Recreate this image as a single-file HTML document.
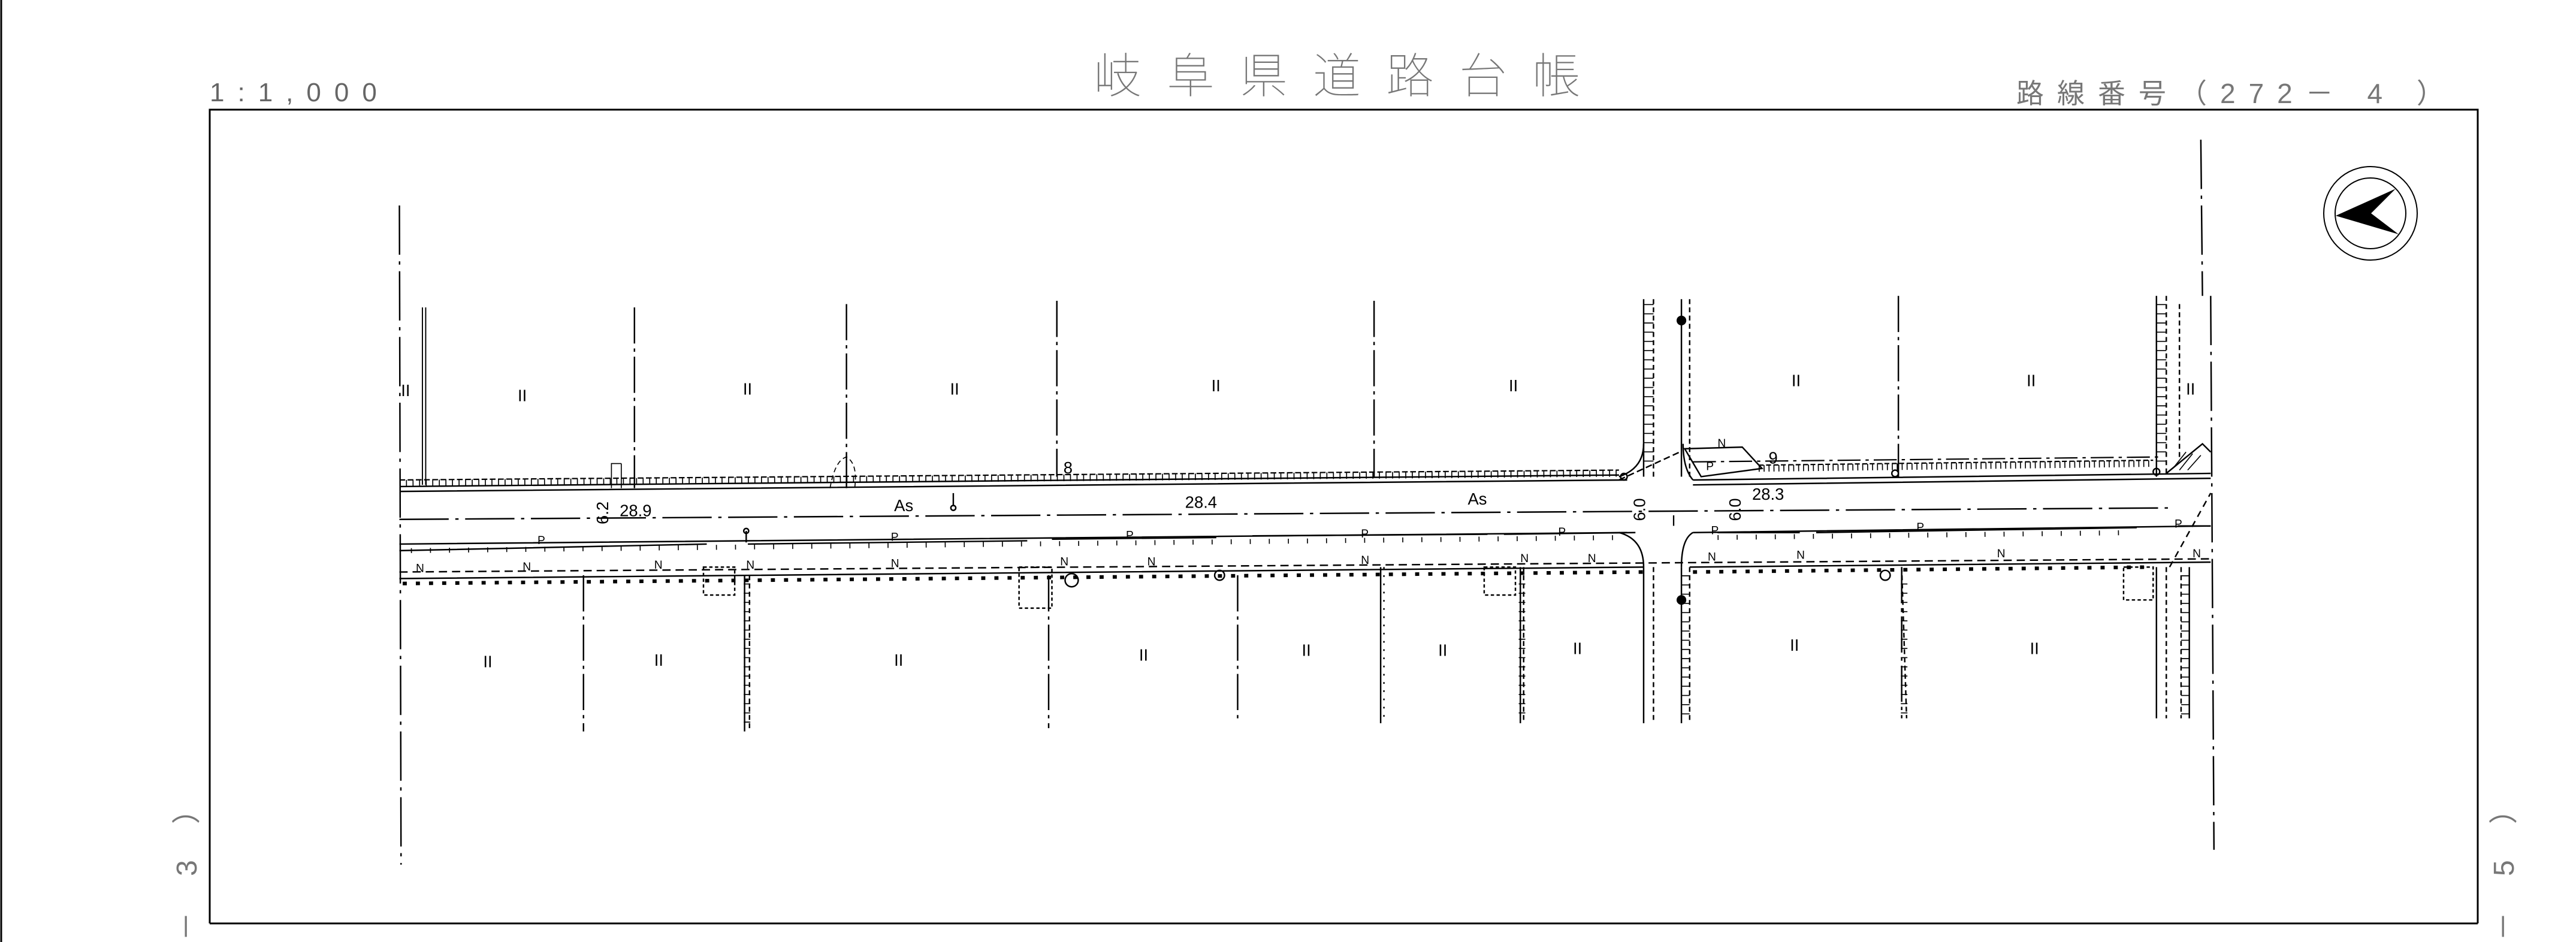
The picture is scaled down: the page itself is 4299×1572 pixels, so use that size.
<!DOCTYPE html>
<html><head><meta charset="utf-8"><style>
html,body{margin:0;padding:0;background:#fff;}
svg{display:block;}
</style></head><body>
<svg width="4299" height="1572" viewBox="0 0 4299 1572" xmlns="http://www.w3.org/2000/svg">
<rect width="4299" height="1572" fill="#fff"/>
<line x1="2" y1="0" x2="2" y2="1572" stroke="#000" stroke-width="3"/>
<!-- header -->
<text x="350" y="169" font-family="Liberation Sans, sans-serif" font-size="44" font-weight="100" letter-spacing="22" fill="#666">1:1,000</text>
<text x="1825" y="155" font-family="Liberation Sans, 'Noto Sans CJK JP', sans-serif" font-size="80" letter-spacing="42" fill="#777" font-weight="100">岐阜県道路台帳</text>
<text x="3365" y="172" font-family="Liberation Sans, 'Noto Sans CJK JP', sans-serif" font-size="46" letter-spacing="22" fill="#777">路線番号（272－ 4 ）</text>
<!-- frame -->
<polyline points="350,1541 350,183 4135,183 4135,1541" fill="none" stroke="#000" stroke-width="3"/>
<line x1="350" y1="1541" x2="4135" y2="1541" stroke="#000" stroke-width="3"/>
<text transform="translate(328,1570) rotate(-90)" font-family="Liberation Sans, sans-serif" font-size="48" letter-spacing="60" fill="#777">－3）</text>
<text transform="translate(4195,1570) rotate(-90)" font-family="Liberation Sans, sans-serif" font-size="48" letter-spacing="60" fill="#777">－5）</text>
<!-- north arrow -->
<circle cx="3956" cy="356" r="78" fill="none" stroke="#000" stroke-width="2"/>
<circle cx="3956" cy="356" r="59" fill="none" stroke="#000" stroke-width="2"/>
<polygon points="3898,360 3998,315 3957,356 4003,391" fill="#000"/>

<g transform="scale(2.743)" fill="none" stroke="#000" stroke-width="0.9" font-family="Liberation Sans, sans-serif">
 <g stroke-dasharray="30 4 2 4">
  <line x1="243" y1="125" x2="244" y2="526"/>
  <line x1="1339" y1="85" x2="1340" y2="180"/>
  <line x1="1345" y1="180" x2="1347" y2="517"/>
  <line x1="243" y1="316" x2="1322" y2="309"/>
 </g>
 <line x1="257" y1="187" x2="257" y2="295" stroke-width="0.7"/>
 <line x1="259" y1="187" x2="259" y2="295" stroke-width="0.7"/>
 <!-- road top -->
 <path d="M243,296 L985,289 M243,299 L990,292 M1030,292 L1345,288 M1030,295 L1345,291"/>
 <path d="M243,292 L985,286" stroke-dasharray="3.5 1.5" stroke-width="0.8"/>
 <path d="M243,294 L985,288" stroke-dasharray="0.6 3.4" stroke-width="4"/>
 <path d="M1070,285 L1310,282" stroke-dasharray="0.6 2.4" stroke-width="4"/>
 <path d="M1070,283 L1310,280" stroke-dasharray="3 1.5" stroke-width="0.8"/>
 <path d="M1030,281 L1315,278" stroke-dasharray="14 3 2 3" stroke-width="0.8"/>
 <!-- road bottom -->
 <path d="M243,331 L990,324 M1030,324 L1345,320"/>
 <path d="M243,335 L430,331 M455,331 L625,329 M640,328 L740,327 M762,326 L905,325 M915,325 L995,324 M1045,324 L1095,324 M1105,324 L1300,321 M1325,320 L1345,320"/>
 <path d="M250,335 L990,327 M1045,327 L1300,324" stroke-dasharray="0.6 11" stroke-width="3"/>
 <path d="M243,348 L1345,340" stroke-dasharray="5 3"/>
 <path d="M243,352 L1000,345 M1028,345 L1345,342"/>
 <path d="M245,355 L1000,348 M1030,348 L1310,345" stroke-dasharray="2.5 5.5" stroke-width="2.2"/>
 <!-- intersection curves -->
 <path d="M985,324 Q1000,328 1000,345 M1030,324 Q1023,328 1023,345"/>
 <path d="M985,290 Q1000,285 1000,270 M1030,292 Q1024,285 1024,270"/>
 <path d="M1025,273 L1060,272 L1072,285 L1035,290 Z"/>
 <path d="M985,292 L1022,275" stroke-dasharray="4 2"/>
 <path d="M1318,288 L1340,270 L1345,275"/>
 <path d="M1322,285 L1330,275 M1326,286 L1334,276 M1331,286 L1339,277" stroke-width="0.6"/>
 <path d="M1320,345 L1345,300" stroke-dasharray="4 3"/>
 <!-- side roads -->
 <g>
  <line x1="1000" y1="182" x2="1000" y2="290"/><line x1="1006" y1="182" x2="1006" y2="290" stroke-dasharray="3 2"/>
  <line x1="1003" y1="185" x2="1003" y2="285" stroke-dasharray="0.6 5" stroke-width="6"/>
  <line x1="1023" y1="182" x2="1023" y2="290"/><line x1="1028" y1="182" x2="1028" y2="290" stroke-dasharray="3 2"/>
  <line x1="1000" y1="345" x2="1000" y2="440"/><line x1="1006" y1="345" x2="1006" y2="440" stroke-dasharray="3 2"/>
  <line x1="1023" y1="345" x2="1023" y2="440"/><line x1="1028" y1="345" x2="1028" y2="440" stroke-dasharray="3 2"/>
  <line x1="1025.5" y1="350" x2="1025.5" y2="438" stroke-dasharray="0.6 5" stroke-width="5"/>
  <line x1="1312" y1="180" x2="1312" y2="290"/><line x1="1318" y1="180" x2="1318" y2="290" stroke-dasharray="3 2"/>
  <line x1="1315" y1="185" x2="1315" y2="285" stroke-dasharray="0.6 5" stroke-width="6"/>
  <line x1="1326" y1="185" x2="1326" y2="280" stroke-dasharray="3 2"/>
  <line x1="1312" y1="345" x2="1312" y2="437"/><line x1="1318" y1="345" x2="1318" y2="437" stroke-dasharray="3 2"/>
  <line x1="1327" y1="345" x2="1327" y2="437" stroke-dasharray="3 2"/><line x1="1332" y1="345" x2="1332" y2="437"/>
  <line x1="1329.5" y1="350" x2="1329.5" y2="435" stroke-dasharray="0.6 5" stroke-width="5"/>
 </g>
 <g stroke-dasharray="22 3 2 3">
  <line x1="386" y1="187" x2="386" y2="297"/>
  <line x1="515" y1="185" x2="515" y2="297"/>
  <line x1="643" y1="183" x2="643" y2="290"/>
  <line x1="836" y1="183" x2="836" y2="290"/>
  <line x1="1155" y1="180" x2="1155" y2="290"/>
  <line x1="355" y1="350" x2="355" y2="445"/>
  <line x1="638" y1="350" x2="638" y2="443"/>
  <line x1="753" y1="350" x2="753" y2="440"/>
  <line x1="1157" y1="345" x2="1157" y2="437"/>
 </g>
 <line x1="453" y1="350" x2="453" y2="445"/><line x1="456" y1="350" x2="456" y2="445" stroke-dasharray="3 2"/>
 <line x1="454.5" y1="355" x2="454.5" y2="443" stroke-dasharray="0.6 5" stroke-width="4"/>
 <line x1="840" y1="345" x2="840" y2="440"/><line x1="842" y1="345" x2="842" y2="440" stroke-dasharray="1 4"/>
 <line x1="925" y1="345" x2="925" y2="440"/><line x1="927" y1="345" x2="927" y2="440" stroke-dasharray="3 2"/>
 <line x1="926" y1="355" x2="926" y2="438" stroke-dasharray="0.6 5" stroke-width="4"/>
 <line x1="1157" y1="345" x2="1160" y2="437" stroke-dasharray="3 2"/>
 <line x1="1158.5" y1="355" x2="1158.5" y2="435" stroke-dasharray="0.6 5" stroke-width="4"/>
 <g stroke-dasharray="2 1.5">
  <rect x="428" y="345" width="19" height="17"/>
  <rect x="620" y="345" width="20" height="25"/>
  <rect x="903" y="345" width="19" height="17"/>
  <rect x="1292" y="345" width="18" height="20"/>
 </g>
 <circle cx="652" cy="353" r="4"/><circle cx="1147" cy="350" r="3"/><circle cx="742" cy="350" r="3"/>
 <circle cx="1023" cy="195" r="2.5" fill="#000"/><circle cx="1023" cy="365" r="2.5" fill="#000"/>
 <circle cx="988" cy="290" r="2"/><circle cx="1153" cy="288" r="2"/><circle cx="1312" cy="287" r="2"/>
 <line x1="580" y1="300" x2="580" y2="308"/><circle cx="580" cy="309" r="1.5"/>
 <line x1="454" y1="323" x2="454" y2="330"/><circle cx="454" cy="323" r="1.5"/>
 <path d="M372,297 L372,282 L378,282 M378,297 L378,282" stroke-width="0.6"/>
 <path d="M505,297 Q508,280 515,278 Q522,282 520,297" stroke-dasharray="3 2" stroke-width="0.6"/>
 <g fill="#000" stroke="none" font-size="10">
  <text x="377" y="314">28.9</text><text x="544" y="311">As</text><text x="721" y="309">28.4</text>
  <text x="893" y="307">As</text><text x="1066" y="304">28.3</text>
  <text x="647" y="288">8</text><text x="1076" y="282">9</text>
  <text transform="translate(370,319) rotate(-90)">6.2</text>
  <text transform="translate(1001,317) rotate(-90)">6.0</text>
  <text transform="translate(1059,317) rotate(-90)">6.0</text>
  <text x="1017" y="320" font-size="9">I</text>
 </g>
 <g fill="#000" stroke="none" font-size="7">
  <text x="327" y="331">P</text><text x="542" y="329">P</text><text x="685" y="328">P</text><text x="828" y="327">P</text><text x="948" y="326">P</text><text x="1041" y="325">P</text><text x="1166" y="323">P</text><text x="1323" y="321">P</text><text x="1038" y="286">P</text><text x="1045" y="272">N</text>
  <text x="253" y="348">N</text><text x="318" y="347">N</text><text x="398" y="346">N</text><text x="454" y="346">N</text><text x="542" y="345">N</text><text x="645" y="344">N</text><text x="698" y="344">N</text><text x="828" y="343">N</text><text x="925" y="342">N</text><text x="966" y="342">N</text><text x="1039" y="341">N</text><text x="1093" y="340">N</text><text x="1215" y="339">N</text><text x="1334" y="339">N</text>
 </g>
 <g fill="#000" stroke="none" font-size="10" font-weight="100">
  <text x="244" y="241">II</text><text x="315" y="244">II</text><text x="452" y="240">II</text><text x="578" y="240">II</text><text x="737" y="238">II</text><text x="918" y="238">II</text><text x="1090" y="235">II</text><text x="1233" y="235">II</text><text x="1330" y="240">II</text>
  <text x="294" y="406">II</text><text x="398" y="405">II</text><text x="544" y="405">II</text><text x="693" y="402">II</text><text x="792" y="399">II</text><text x="875" y="399">II</text><text x="957" y="398">II</text><text x="1089" y="396">II</text><text x="1235" y="398">II</text>
 </g>
</g>
</svg>
</body></html>
